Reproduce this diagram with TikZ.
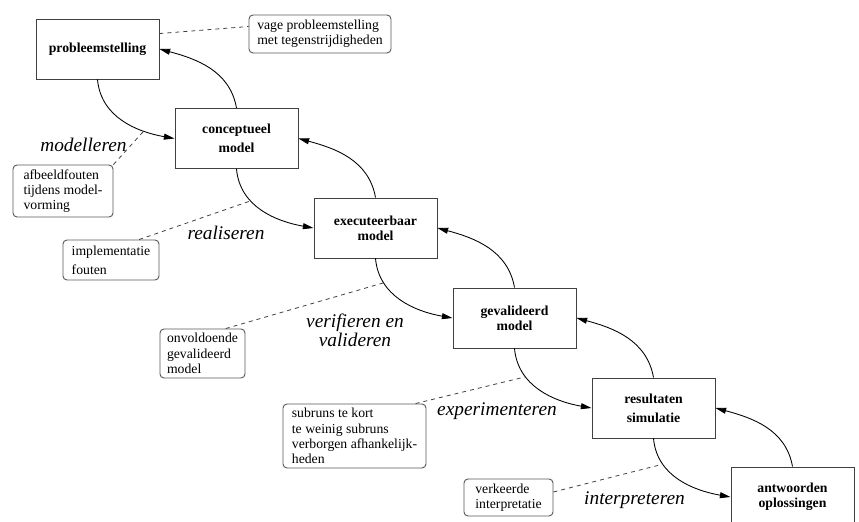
\documentclass[tikz,border=0pt]{standalone}
\usepackage{fontspec}
\setmainfont{Liberation Serif}
\newfontfamily\timesfont{Liberation Serif}
\usepackage{tikz}
\usetikzlibrary{arrows.meta}
\tikzstyle{stagebox} = [draw=black!75, line width=0.7pt, minimum width=92.25pt, minimum height=45pt, inner sep=0pt, text centered, align=center, font=\timesfont\fontsize{10.3}{11.5}\selectfont\bfseries]
\tikzstyle{notebox} = [draw=black!65, line width=0.7pt, rounded corners=3pt, inner sep=0pt, align=left, font=\timesfont\fontsize{10.3}{11.5}\selectfont]
\tikzstyle{phaselabel} = [inner sep=0pt, align=center, font=\timesfont\fontsize{14.5}{14.5}\selectfont\itshape]
\tikzstyle{edge} = [black, line width=0.65pt, -{Triangle[length=8pt,width=4.5pt]}]
\tikzstyle{noteline} = [black!75, line width=0.6pt, dashed]

\begin{document}
\begin{tikzpicture}[x=0.75pt, y=0.75pt]

\useasboundingbox (0,0) rectangle (859,521);

\node[stagebox] (1) at (97.5,472) {probleemstelling};
\node[stagebox] (2) at (236.5,382.5) {conceptueel\\[3pt]model};
\node[stagebox] (3) at (375.5,293) {executeerbaar\\model};
\node[stagebox] (4) at (514.5,203) {gevalideerd\\model};
\node[stagebox] (5) at (653.5,113) {resultaten\\[3pt]simulatie};
\node[stagebox] (6) at (792.5,24) {antwoorden\\oplossingen};

\node[notebox, minimum width=106.5pt, minimum height=28.5pt] (n1) at (320,487) {vage probleemstelling\\met tegenstrijdigheden};
\node[notebox, minimum width=75pt, minimum height=39pt] (n2) at (63,330) {afbeeldfouten\\tijdens model-\\vorming};
\node[notebox, minimum width=72pt, minimum height=30pt] (n3) at (111,261) {implementatie\\[2.5pt]fouten};
\node[notebox, minimum width=63.75pt, minimum height=36.75pt] (n4) at (202.5,167.5) {onvoldoende\\gevalideerd\\model};
\node[notebox, minimum width=107.25pt, minimum height=48pt] (n5) at (354.5,85) {subruns te kort\\te weinig subruns\\verborgen afhankelijk-\\heden};
\node[notebox, minimum width=66.75pt, minimum height=27.75pt] (n6) at (508.5,23.5) {verkeerde\\interpretatie};

\node[phaselabel] (l1) at (83.5,376) {modelleren};
\node[phaselabel] (l2) at (226,288) {realiseren};
\node[phaselabel] (l3) at (355,191) {verifieren en\\valideren};
\node[phaselabel] (l4) at (497,110) {experimenteren};
\node[phaselabel] (l5) at (634.5,21) {interpreteren};

% heen: naar de volgende fase
\draw[edge] (1.south) to[out=-85, in=170] coordinate[pos=0.72] (m1) (2.west);
\draw[edge] (2.south) to[out=-85, in=170] coordinate[pos=0.35] (m2) (3.west);
\draw[edge] (3.south) to[out=-85, in=170] coordinate[pos=0.25] (m3) (4.west);
\draw[edge] (4.south) to[out=-85, in=170] coordinate[pos=0.3] (m4) (5.west);
\draw[edge] (5.south) to[out=-85, in=170] coordinate[pos=0.27] (m5) (6.west);

% terug: naar de vorige fase
\draw[edge] (2.north) to[out=100, in=-15] (1.east);
\draw[edge] (3.north) to[out=100, in=-15] (2.east);
\draw[edge] (4.north) to[out=100, in=-15] (3.east);
\draw[edge] (5.north) to[out=100, in=-15] (4.east);
\draw[edge] (6.north) to[out=100, in=-15] (5.east);

% foutenbronnen
\draw[noteline] (1.14) -- (n1.174);
\draw[noteline] (n2.north east) -- (m1);
\draw[noteline] (n3.36) -- (m2);
\draw[noteline] (n4.47) -- (m3);
\draw[noteline] (n5.28) -- (m4);
\draw[noteline] (n6.7) -- (m5);

\end{tikzpicture}
\end{document}
